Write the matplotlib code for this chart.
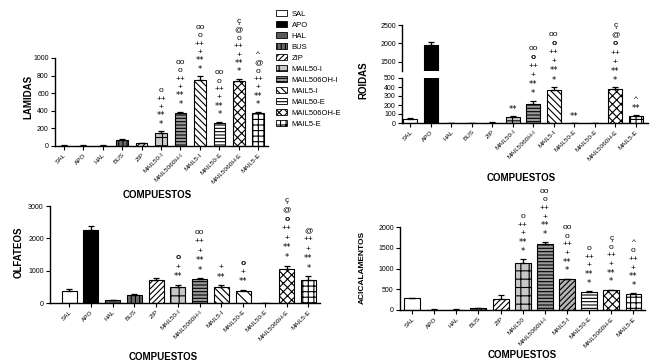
import numpy as np
import matplotlib
matplotlib.use("Agg")
import matplotlib.pyplot as plt
from matplotlib.patches import Patch

plt.rcParams['font.family'] = ['Liberation Sans', 'DejaVu Sans']
plt.rcParams['hatch.linewidth'] = 0.8
plt.rcParams['axes.linewidth'] = 1.0

# ---------------------------------------------------------
# data
# ---------------------------------------------------------
legend_names = ['SAL', 'APO', 'HAL', 'BUS', 'ZIP', 'MAIL50-I', 'MAIL506OH-I',
                'MAIL5-I', 'MAIL50-E', 'MAIL506OH-E', 'MAIL5-E']

lam_labels = ['SAL', 'APO', 'HAL', 'BUS', 'ZIP', 'MAIL50-I', 'MAIL5060H-I',
              'MAIL5-I', 'MAIL50-E', 'MAIL5060H-E', 'MAIL5-E']
lam_values = [5, 5, 5, 72, 30, 145, 372, 752, 260, 738, 372]
lam_err = [3, 3, 3, 8, 6, 20, 20, 40, 15, 22, 18]
lam_marks = {5: ['*', '**', '+', '++', 'o'],
             6: ['*', '**', '+', '++', 'o', 'oo'],
             7: ['*', '**', '+', '++', 'o', 'oo'],
             8: ['*', '**', '+', '++', 'o', 'oo'],
             9: ['*', '**', '+', '++', 'o', '@', 'ç'],
             10: ['*', '**', '+', '++', 'o', '@', '^']}

roi_labels = ['SAL', 'APO', 'HAL', 'BUS', 'ZIP', 'MAIL50-I', 'MAIL5060H-I',
              'MAIL5-I', 'MAIL50-E', 'MAIL50-E', 'MAIL5060H-E', 'MAIL5-E']
roi_values = [42, 1955, 0, 0, 5, 65, 210, 368, 0, 0, 378, 80]
roi_err = [10, 80, 0, 0, 2, 10, 40, 35, 0, 0, 20, 10]
roi_marks = {5: ['**'],
             6: ['*', '**', '+', '++', 'o', 'oo'],
             7: ['*', '**', '+', '++', 'o', 'oo'],
             8: ['**'],
             10: ['*', '**', '+', '++', 'o', '@', 'ç'],
             11: ['**', '^']}

olf_labels = roi_labels
olf_values = [365, 2260, 80, 255, 700, 485, 740, 495, 365, 0, 1045, 700]
olf_err = [70, 130, 20, 12, 70, 70, 20, 50, 30, 0, 110, 120]
olf_marks = {5: ['**', '+', 'o'],
             6: ['*', '**', '+', '++', 'oo'],
             7: ['**', '+'],
             8: ['**', '+', 'o'],
             10: ['*', '**', '+', '++', 'o', '@', 'ç'],
             11: ['*', '**', '+', '++', '@']}

aci_labels = ['SAL', 'APO', 'HAL', 'BUS', 'ZIP', 'MAIL50', 'MAIL5060H-I',
              'MAIL5-I', 'MAIL50-E', 'MAIL5060H-E', 'MAIL5-E']
aci_values = [280, 10, 10, 45, 275, 1130, 1600, 740, 440, 475, 385]
aci_err = [20, 5, 5, 10, 80, 95, 30, 15, 15, 10, 15]
aci_marks = {5: ['*', '**', '+', '++', 'o'],
             6: ['*', '**', '+', '++', 'o', 'oo'],
             7: ['*', '**', '+', '++', 'o', 'oo'],
             8: ['*', '**', '+', '++', 'o'],
             9: ['*', '**', '+', '++', 'o', 'ç'],
             10: ['*', '**', '+', '++', 'o', '^']}

# fill styles per group
STYLE = {
    'SAL': dict(facecolor='white', hatch=None),
    'APO': dict(facecolor='black', hatch=None),
    'HAL': dict(facecolor='#5a5a5a', hatch=None),
    'BUS': dict(facecolor='#6a6a6a', hatch='||||'),
    'ZIP': dict(facecolor='white', hatch='//////'),
    'MAIL50-I': dict(facecolor='#c8c8c8', hatch='++'),
    'MAIL506OH-I': dict(facecolor='#9a9a9a', hatch='-----'),
    'MAIL5-I': dict(facecolor='white', hatch='\\\\\\\\\\'),
    'MAIL50-E': dict(facecolor='white', hatch='-----'),
    'MAIL506OH-E': dict(facecolor='white', hatch='xxxx'),
    'MAIL5-E': dict(facecolor='white', hatch='+++'),
}


def style_key(label):
    key = label.replace('5060H', '506OH')
    if key == 'MAIL50':
        key = 'MAIL50-I'
    return key


def setup_axis(ax):
    for s in ['top', 'right']:
        ax.spines[s].set_visible(False)
    ax.tick_params(axis='both', direction='out', length=3, width=0.8,
                   labelsize=5, pad=1.5)


def draw_bars(ax, labels, values, err, width, override=None):
    override = override or {}
    x = np.arange(len(labels))
    for i, lab in enumerate(labels):
        st = override.get(i, STYLE[style_key(lab)])
        ax.bar(x[i], values[i], width=width, color=st['facecolor'],
               edgecolor='black', linewidth=0.8, hatch=st['hatch'], zorder=2)
    ax.errorbar(x, values, yerr=[np.zeros(len(x)), err], fmt='none',
                ecolor='black', elinewidth=0.9, capsize=2.3, capthick=0.9,
                zorder=3)
    ax.set_xticks(x)
    ax.set_xticklabels(labels, rotation=45, ha='right', rotation_mode='anchor',
                       fontsize=4.6)
    return x


def draw_marks(ax, marks, values, err, bold_o=False, start=4.7, step=5.8):
    for i, lst in marks.items():
        top = values[i] + err[i]
        for k, m in enumerate(lst):
            w = 'bold' if (bold_o and m == 'o') else 'normal'
            fam = 'DejaVu Sans' if '*' in m else 'Liberation Sans'
            ax.annotate(m, (i, top), xytext=(0, start + k * step),
                        textcoords='offset points', ha='center', va='center',
                        fontsize=6, fontweight=w, family=fam,
                        annotation_clip=False)


fig = plt.figure(figsize=(6.5, 3.64), dpi=100)


def frac(x0, y_top, x1, y_bot):
    # pixel box -> figure fraction rect
    return [x0 / 650, 1 - y_bot / 364, (x1 - x0) / 650, (y_bot - y_top) / 364]


def label(x, y, s, rot=0, size=7):
    fig.text(x / 650, 1 - y / 364, s, fontsize=size, fontweight='bold',
             rotation=rot, ha='center', va='center')


# ---------------------------------------------------------
# LAMIDAS
# ---------------------------------------------------------
ax1 = fig.add_axes(frac(55, 58, 268, 146))
setup_axis(ax1)
draw_bars(ax1, lam_labels, lam_values, lam_err, 0.6)
ax1.set_xlim(-0.45, 10.5)
ax1.set_ylim(0, 1000)
ax1.set_yticks([0, 200, 400, 600, 800, 1000])
draw_marks(ax1, lam_marks, lam_values, lam_err, start=5.2, step=6.0)
label(28, 97, 'LAMIDAS', rot=90)
label(157, 195, 'COMPUESTOS')

handles = []
for name in legend_names:
    st = STYLE[name]
    handles.append(Patch(facecolor=st['facecolor'], edgecolor='black',
                         hatch=st['hatch'], linewidth=0.6))
fig.legend(handles, legend_names, loc='upper left',
           bbox_to_anchor=(276 / 650, 1 - 10 / 364), frameon=False,
           fontsize=5.5, handlelength=1.45, handleheight=0.8,
           handletextpad=0.6, labelspacing=0.45, borderpad=0, borderaxespad=0)

# ---------------------------------------------------------
# ROIDAS (broken axis)
# ---------------------------------------------------------
ax2u = fig.add_axes(frac(402, 25, 648, 71))
ax2 = fig.add_axes(frac(402, 78, 648, 123), sharex=ax2u)
setup_axis(ax2)
setup_axis(ax2u)
ax2.patch.set_visible(False)
ax2u.patch.set_visible(False)
ax2u.spines['bottom'].set_visible(False)
ax2u.tick_params(axis='x', bottom=False, labelbottom=False)
draw_bars(ax2, roi_labels, roi_values, roi_err, 0.68)
xr = np.arange(len(roi_labels))
ax2u.bar(xr, roi_values, width=0.68, color=['black' if l == 'APO' else 'none'
                                               for l in roi_labels],
         edgecolor=['black' if l == 'APO' else 'none' for l in roi_labels],
         linewidth=0.8, zorder=2)
ax2u.errorbar(xr, roi_values, yerr=[np.zeros(len(xr)), roi_err], fmt='none',
              ecolor='black', elinewidth=0.9, capsize=2.3, capthick=0.9,
              zorder=3)
ax2.set_xticks(xr)
ax2.set_xticklabels(roi_labels, rotation=45, ha='right', rotation_mode='anchor',
                    fontsize=4.6)
ax2.set_xlim(-0.4, 11.6)
ax2.set_ylim(0, 500)
ax2.set_yticks([0, 100, 200, 300, 400, 500])
ax2u.set_ylim(1245, 2500)
ax2u.set_yticks([1500, 2000, 2500])
draw_marks(ax2, roi_marks, roi_values, roi_err, bold_o=True, start=4.8, step=6.6)
label(363, 80, 'ROIDAS', rot=90)
label(521, 178, 'COMPUESTOS')

# ---------------------------------------------------------
# OLFATEOS
# ---------------------------------------------------------
ax3 = fig.add_axes(frac(50, 206, 320, 303))
setup_axis(ax3)
olf_override = {8: dict(facecolor='white', hatch='\\\\\\')}
draw_bars(ax3, olf_labels, olf_values, olf_err, 0.69, olf_override)
ax3.set_xlim(-0.88, 11.53)
ax3.set_ylim(0, 3000)
ax3.set_yticks([0, 1000, 2000, 3000])
draw_marks(ax3, olf_marks, olf_values, olf_err, bold_o=True, start=6.0, step=6.8)
label(19, 252, 'OLFATEOS', rot=90)
label(163, 357, 'COMPUESTOS')

# ---------------------------------------------------------
# ACICALAMENTOS
# ---------------------------------------------------------
ax4 = fig.add_axes(frac(400, 227, 645, 310))
setup_axis(ax4)
aci_override = {7: dict(facecolor='#b4b4b4', hatch='//////')}
draw_bars(ax4, aci_labels, aci_values, aci_err, 0.72, aci_override)
ax4.set_xlim(-0.54, 10.52)
ax4.set_ylim(0, 2000)
ax4.set_yticks([0, 500, 1000, 1500, 2000])
draw_marks(ax4, aci_marks, aci_values, aci_err, start=5.8, step=6.2)
label(362, 267, 'ACICALAMENTOS', rot=90, size=6)
label(522, 355, 'COMPUESTOS')

fig.savefig('out.png', dpi=100)
